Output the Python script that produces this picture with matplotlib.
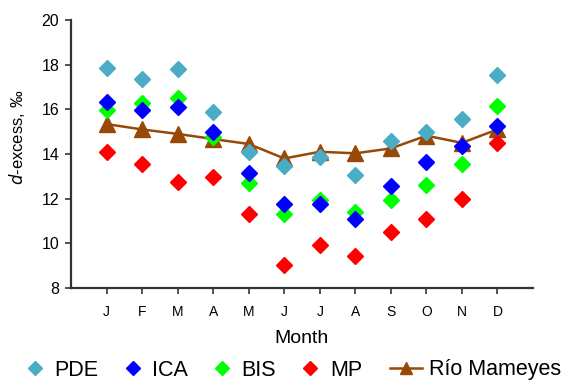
import matplotlib
matplotlib.use("Agg")
import matplotlib.pyplot as plt
from matplotlib.lines import Line2D

plt.rcParams['font.family'] = ['Liberation Sans', 'DejaVu Sans']

months = ['J', 'F', 'M', 'A', 'M', 'J', 'J', 'A', 'S', 'O', 'N', 'D']
pde = [17.84, 17.34, 17.79, 15.9, 14.09, 13.46, 13.88, 13.06, 14.6, 14.97, 15.58, 17.54]
ica = [16.34, 15.97, 16.09, 14.98, 13.16, 11.76, 11.76, 11.07, 12.58, 13.63, 14.36, 15.25]
bis = [15.97, 16.3, 16.49, 14.77, 12.71, 11.3, 11.94, 11.42, 11.94, 12.61, 13.55, 16.15]
mp = [14.10, 13.54, 12.76, 12.98, 11.31, 9.03, 9.92, 9.43, 10.49, 11.09, 12.0, 14.51]
rio = [15.34, 15.1, 14.9, 14.67, 14.45, 13.8, 14.1, 14.03, 14.25, 14.82, 14.5, 15.1]

x = list(range(1, len(months) + 1))

W, H = 564, 380
fig = plt.figure(figsize=(W/100, H/100), dpi=100)
ax = fig.add_axes([71/W, 1-288/H, (533-71)/W, (288-20)/H])

c_pde = '#4BACC6'
c_ica = '#0000FF'
c_bis = '#00FF00'
c_mp = '#FF0000'
c_rio = '#984807'

ms = 7.8
ax.plot(x, rio, color=c_rio, lw=1.8, marker='^', markersize=11, zorder=2)
ax.plot(x, pde, ls='none', marker='D', color=c_pde, markersize=ms, zorder=3)
ax.plot(x, bis, ls='none', marker='D', color=c_bis, markersize=ms, zorder=4)
ax.plot(x, ica, ls='none', marker='D', color=c_ica, markersize=ms, zorder=5)
ax.plot(x, mp, ls='none', marker='D', color=c_mp, markersize=ms, zorder=6)

ax.set_xlim(0, 13)
ax.set_ylim(8, 20)
ax.set_xticks(x)
ax.set_xticklabels(months, fontsize=10)
ax.set_yticks(range(8, 21, 2))
ax.tick_params(axis='y', labelsize=11.5, length=4.5, width=1.2, direction='out', color='#333333', pad=4)
ax.tick_params(axis='x', length=4.5, width=1.2, direction='out', color='#333333', pad=8)
for s in ['top', 'right']:
    ax.spines[s].set_visible(False)
for s in ['left', 'bottom']:
    ax.spines[s].set_linewidth(1.6)
    ax.spines[s].set_color('#333333')

ax.set_xlabel('Month', fontsize=14, labelpad=8)
ax.set_ylabel(r'$\it{d}$-excess, ‰', fontsize=12)
ax.yaxis.set_label_coords(-0.095, 0.563)

diamonds = [
    Line2D([], [], ls='none', marker='D', color=c_pde, markersize=7),
    Line2D([], [], ls='none', marker='D', color=c_ica, markersize=7),
    Line2D([], [], ls='none', marker='D', color=c_bis, markersize=7),
    Line2D([], [], ls='none', marker='D', color=c_mp, markersize=7),
]
leg1 = fig.legend(diamonds, ['PDE', 'ICA', 'BIS', 'MP'], loc='center left',
                  bbox_to_anchor=(19/W, 1-370/H), ncol=4, frameon=False, fontsize=15.5,
                  handlelength=1.5, handletextpad=0.15, columnspacing=0.84,
                  borderaxespad=0, borderpad=0)
rio_h = [Line2D([], [], color=c_rio, lw=1.8, marker='^', markersize=9)]
leg2 = fig.legend(rio_h, ['Río Mameyes'], loc='center left',
                  bbox_to_anchor=(390/W, 1-370/H), frameon=False, fontsize=15.5,
                  handlelength=1.5, handletextpad=0.3, borderaxespad=0, borderpad=0)

fig.savefig('out.png', dpi=100)
